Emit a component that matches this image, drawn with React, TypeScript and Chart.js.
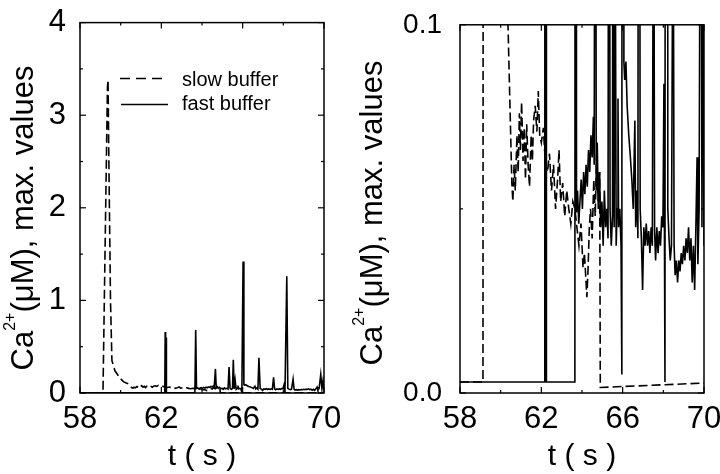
import React, { useEffect, useRef } from 'react';
import { Chart, registerables } from 'chart.js';

Chart.register(...registerables);

const FONT = '"Liberation Sans", Arial, Helvetica, sans-serif';

// ---- data ----
const slowTime = [
  58.0, 59.13, 59.35, 59.38, 59.42, 59.5, 59.57, 59.72, 59.97, 60.15, 60.36, 60.55,
  60.6, 60.66, 60.72, 60.8, 60.86, 60.92, 60.97, 61.03, 61.1, 61.16, 61.22, 61.28,
  61.35, 61.42, 61.5, 61.56, 61.62, 61.7, 61.78, 61.85, 61.92, 62.0, 62.1, 62.2,
  62.3, 62.4, 62.5, 62.6, 62.7, 62.8, 62.87, 62.95, 63.05, 63.15, 63.25, 63.35,
  63.45, 63.55, 63.65, 63.75, 63.85, 63.95, 64.05, 64.12, 64.2, 64.24, 64.3, 64.36,
  64.42, 64.5, 64.58, 64.65, 64.72, 64.8, 64.87, 64.9, 70.0,
];
const slowCa = [
  0.003, 0.003, 3.3, 3.38, 2.5, 1.0, 0.35, 0.24, 0.16, 0.12, 0.1, 0.057,
  0.052, 0.062, 0.055, 0.07, 0.06, 0.076, 0.066, 0.079, 0.063, 0.072, 0.058, 0.073,
  0.062, 0.056, 0.07, 0.063, 0.074, 0.078, 0.071, 0.082, 0.07, 0.068, 0.072, 0.062,
  0.06, 0.065, 0.055, 0.062, 0.05, 0.058, 0.066, 0.052, 0.057, 0.048, 0.055, 0.05,
  0.046, 0.052, 0.05, 0.045, 0.04, 0.046, 0.034, 0.038, 0.03, 0.026, 0.034, 0.045,
  0.05, 0.042, 0.058, 0.048, 0.065, 0.052, 0.06, 0.0015, 0.0027,
];
const fastTime = [
  58.0, 62.17, 62.19, 62.21, 62.23, 62.25, 62.3, 63.65, 63.69, 63.73, 63.78, 63.84,
  63.9, 63.96, 64.02, 64.08, 64.14, 64.2, 64.26, 64.32, 64.38, 64.44, 64.5, 64.56,
  64.6, 64.66, 64.7, 64.75, 64.8, 64.86, 64.92, 64.98, 65.04, 65.1, 65.16, 65.22,
  65.28, 65.33, 65.38, 65.44, 65.5, 65.54, 65.58, 65.63, 65.68, 65.73, 65.77, 65.8,
  65.86, 65.92, 65.96, 66.02, 66.06, 66.1, 66.16, 66.22, 66.3, 66.38, 66.45, 66.52,
  66.6, 66.64, 66.7, 66.75, 66.8, 66.86, 66.92, 66.98, 67.04, 67.1, 67.16, 67.22,
  67.28, 67.34, 67.4, 67.46, 67.52, 67.57, 67.62, 67.68, 67.74, 67.8, 67.86, 67.92,
  67.98, 68.03, 68.08, 68.17, 68.22, 68.28, 68.34, 68.4, 68.48, 68.53, 68.58, 68.64,
  68.7, 68.76, 68.82, 68.88, 68.94, 69.0, 69.06, 69.12, 69.18, 69.24, 69.3, 69.36,
  69.42, 69.48, 69.54, 69.6, 69.66, 69.7, 69.76, 69.84, 69.9, 69.95, 70.0,
];
const fastCa = [
  0.003, 0.003, 0.66, 0.02, 0.6, 0.003, 0.003, 0.003, 0.68, 0.049, 0.055, 0.046,
  0.052, 0.058, 0.05, 0.06, 0.054, 0.062, 0.056, 0.066, 0.06, 0.07, 0.064, 0.075,
  0.062, 0.26, 0.055, 0.068, 0.05, 0.06, 0.045, 0.052, 0.04, 0.055, 0.045, 0.05,
  0.042, 0.28, 0.05, 0.04, 0.048, 0.36, 0.045, 0.14, 0.04, 0.05, 0.08, 0.045,
  0.05, 0.04, 0.005, 1.42, 0.09, 0.085, 0.09, 0.078, 0.07, 0.064, 0.058, 0.05,
  0.074, 0.045, 0.055, 0.042, 0.38, 0.05, 0.042, 0.028, 0.045, 0.04, 0.046, 0.04,
  0.044, 0.038, 0.045, 0.04, 0.17, 0.044, 0.036, 0.045, 0.038, 0.044, 0.04, 0.048,
  0.045, 0.084, 0.003, 1.26, 0.05, 0.042, 0.036, 0.04, 0.15, 0.04, 0.032, 0.036,
  0.03, 0.036, 0.033, 0.038, 0.035, 0.04, 0.036, 0.042, 0.038, 0.045, 0.036, 0.042,
  0.03, 0.04, 0.028, 0.045, 0.064, 0.035, 0.05, 0.2, 0.045, 0.13, 0.04,
];

const xMajorTicks = [58, 62, 66, 70];
const xMinorTicks = [60, 64, 68];
const leftYMajor = [0, 1, 2, 3, 4];
const leftYMinor = [0.5, 1.5, 2.5, 3.5];
const rightYMajor = [0, 0.1];
const rightYMinor = [0.05];
const legendLabels = ['slow buffer', 'fast buffer'];
const xTitle = 't ( s )';
const yTitleMain = 'Ca';
const yTitleSup = '2+';
const yTitleRest = '(\u03BCM), max. values';

type PanelProps = {
  left: number;
  width: number;
  chartLeft: number;
  chartRight: number;
  yMax: number;
  yMajor: number[];
  yMinor: number[];
  decimals: number;
  yFontSize: number;
  yPad: number;
  titleX: number;
  titleY: number;
  showLegend: boolean;
};

const TOP_OFF = 10;
const CANVAS_H = 484;
const CHART_TOP = 23;
const CHART_BOTTOM = 403;

function makeDecor(p: PanelProps) {
  return {
    id: 'decor',
    afterDraw(chart: any) {
      const { ctx, chartArea: a, scales } = chart;
      const xs = scales.x;
      const ys = scales.y;
      ctx.save();
      ctx.strokeStyle = '#000';
      ctx.fillStyle = '#000';
      ctx.setLineDash([]);
      ctx.lineWidth = 1.5;
      ctx.strokeRect(a.left, a.top, a.right - a.left, a.bottom - a.top);
      ctx.lineWidth = 1.2;
      const seg = (x1: number, y1: number, x2: number, y2: number) => {
        ctx.beginPath();
        ctx.moveTo(x1, y1);
        ctx.lineTo(x2, y2);
        ctx.stroke();
      };
      const xt = (vals: number[], len: number) =>
        vals.forEach((v) => {
          const px = xs.getPixelForValue(v);
          seg(px, a.bottom, px, a.bottom - len);
          seg(px, a.top, px, a.top + len);
        });
      const yt = (vals: number[], len: number) =>
        vals.forEach((v) => {
          const py = ys.getPixelForValue(v);
          seg(a.left, py, a.left + len, py);
          seg(a.right, py, a.right - len, py);
        });
      xt(xMajorTicks, 6);
      xt(xMinorTicks, 3);
      yt(p.yMajor, 6);
      yt(p.yMinor, 3);

      // x title
      ctx.font = `30px ${FONT}`;
      ctx.textAlign = 'center';
      ctx.textBaseline = 'middle';
      ctx.fillText(xTitle, (a.left + a.right) / 2, 457 + TOP_OFF);

      // y title with superscript
      const size = 31;
      const sup = 16;
      ctx.save();
      ctx.translate(p.titleX, p.titleY + TOP_OFF);
      ctx.rotate(-Math.PI / 2);
      ctx.textAlign = 'left';
      ctx.textBaseline = 'alphabetic';
      ctx.font = `${size}px ${FONT}`;
      const w1 = ctx.measureText(yTitleMain).width;
      const w3 = ctx.measureText(yTitleRest).width;
      ctx.font = `${sup}px ${FONT}`;
      const w2 = ctx.measureText(yTitleSup).width;
      const total = w1 + w2 + w3;
      let x = -total / 2;
      const base = 0.36 * size;
      ctx.font = `${size}px ${FONT}`;
      ctx.fillText(yTitleMain, x, base);
      x += w1;
      ctx.font = `${sup}px ${FONT}`;
      ctx.fillText(yTitleSup, x, base - 0.6 * size);
      x += w2;
      ctx.font = `${size}px ${FONT}`;
      ctx.fillText(yTitleRest, x, base);
      ctx.restore();

      if (p.showLegend) {
        ctx.lineWidth = 1.5;
        ctx.setLineDash([10, 6]);
        seg(a.left + 40, a.top + 56, a.left + 82, a.top + 56);
        ctx.setLineDash([]);
        seg(a.left + 41, a.top + 82, a.left + 88, a.top + 82);
        ctx.font = `20px ${FONT}`;
        ctx.textAlign = 'left';
        ctx.textBaseline = 'alphabetic';
        ctx.fillText(legendLabels[0], a.left + 102, a.top + 63.5);
        ctx.fillText(legendLabels[1], a.left + 102, a.top + 87.5);
      }
      ctx.restore();
    },
  };
}

function Panel(p: PanelProps) {
  const ref = useRef<HTMLCanvasElement>(null);
  useEffect(() => {
    if (!ref.current) return;
    const chart = new Chart(ref.current, {
      type: 'line',
      data: {
        datasets: [
          {
            label: legendLabels[0],
            data: slowTime.map((t, i) => ({ x: t, y: slowCa[i] })),
            borderColor: '#000',
            borderWidth: 1.6,
            borderDash: [9, 4],
            pointRadius: 0,
            fill: false,
            tension: 0,
          },
          {
            label: legendLabels[1],
            data: fastTime.map((t, i) => ({ x: t, y: fastCa[i] })),
            borderColor: '#000',
            borderWidth: 1.6,
            pointRadius: 0,
            fill: false,
            tension: 0,
          },
        ],
      },
      options: {
        animation: false,
        responsive: false,
        maintainAspectRatio: false,
        devicePixelRatio: 1,
        events: [],
        layout: { padding: { left: 0, top: CHART_TOP, right: p.width - p.chartRight, bottom: 0 } },
        plugins: { legend: { display: false }, tooltip: { enabled: false } },
        scales: {
          x: {
            type: 'linear',
            min: 58,
            max: 70,
            grid: { display: false, drawTicks: false },
            border: { display: false },
            afterBuildTicks: (s: any) => {
              s.ticks = xMajorTicks.map((v) => ({ value: v }));
            },
            ticks: {
              font: { family: FONT, size: 31 },
              color: '#000',
              padding: 8,
              maxRotation: 0,
              autoSkip: false,
              callback: (v: any) => String(v),
            },
            afterFit: (s: any) => {
              s.height = CANVAS_H - CHART_BOTTOM;
            },
          },
          y: {
            type: 'linear',
            min: 0,
            max: p.yMax,
            grid: { display: false, drawTicks: false },
            border: { display: false },
            afterBuildTicks: (s: any) => {
              s.ticks = p.yMajor.map((v) => ({ value: v }));
            },
            ticks: {
              font: { family: FONT, size: p.yFontSize },
              color: '#000',
              padding: p.yPad,
              autoSkip: false,
              callback: (v: any) => Number(v).toFixed(p.decimals),
            },
            afterFit: (s: any) => {
              s.width = p.chartLeft;
            },
          },
        },
      } as any,
      plugins: [makeDecor(p)],
    });
    return () => chart.destroy();
  }, []);
  return (
    <canvas
      ref={ref}
      width={p.width}
      height={CANVAS_H}
      style={{ position: 'absolute', left: p.left, top: -TOP_OFF, width: p.width, height: CANVAS_H }}
    />
  );
}

export default function App() {
  return (
    <div
      style={{
        position: 'absolute',
        left: 0,
        top: 0,
        width: 720,
        height: 474,
        overflow: 'hidden',
        background: '#fff',
      }}
    >
      <Panel
        left={0}
        width={350}
        chartLeft={80}
        chartRight={324}
        yMax={4}
        yMajor={leftYMajor}
        yMinor={leftYMinor}
        decimals={0}
        yFontSize={31}
        yPad={14}
        titleX={22}
        titleY={218}
        showLegend={true}
      />
      <Panel
        left={340}
        width={390}
        chartLeft={120}
        chartRight={364}
        yMax={0.1}
        yMajor={rightYMajor}
        yMinor={rightYMinor}
        decimals={1}
        yFontSize={28}
        yPad={18}
        titleX={31}
        titleY={213}
        showLegend={false}
      />
    </div>
  );
}
